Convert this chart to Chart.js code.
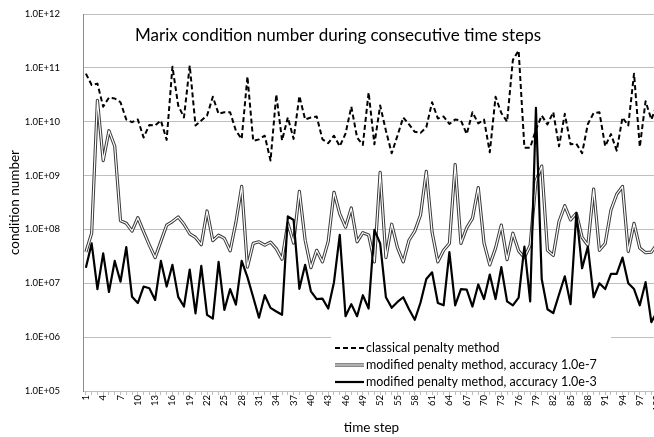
<!DOCTYPE html>
<html>
<head>
<meta charset="utf-8">
<script src="https://cdn.jsdelivr.net/npm/chart.js@4"></script>
<style>
	html, body { margin: 0; padding: 0; background: #fff; overflow: hidden; }
	#wrap { position: relative; width: 680px; height: 437px; }
</style>
</head>
<body>
<div id="wrap"><canvas id="condChart"></canvas></div>
<script>
// time steps 1..100
const categories = Array.from({ length: 100 }, (_, i) => String(i + 1))

const yTickValues = [1e5, 1e6, 1e7, 1e8, 1e9, 1e10, 1e11, 1e12]
const yTickLabels = ['1.0E+05', '1.0E+06', '1.0E+07', '1.0E+08', '1.0E+09', '1.0E+10', '1.0E+11', '1.0E+12']

const seriesNames = [
	'classical penalty method',
	'modified penalty method, accuracy 1.0e-7',
	'modified penalty method, accuracy 1.0e-3',
]

const classical = [
	7.8e10, 4.8e10, 5.1e10, 1.9e10, 2.8e10, 2.7e10, 2.3e10, 1.1e10, 9.8e9, 1.1e10,
	5.1e9, 8.7e9, 8.5e9, 1.05e10, 4.6e9, 1.05e11, 2.0e10, 1.2e10, 1.1e11, 8.5e9,
	1.05e10, 1.3e10, 2.9e10, 1.4e10, 1.5e10, 1.5e10, 6.8e9, 4.8e9, 6.9e10, 4.4e9,
	4.7e9, 5.5e9, 1.9e9, 3.2e10, 4.5e9, 1.2e10, 4.8e9, 3.0e10, 1.1e10, 1.2e10,
	1.25e10, 4.7e9, 4.0e9, 5.5e9, 3.5e9, 6.0e9, 1.9e10, 5.1e9, 3.7e9, 3.5e10,
	3.8e9, 2.0e10, 6.8e9, 2.6e9, 5.5e9, 1.2e10, 8.9e9, 6.5e9, 6.2e9, 7.9e9,
	2.3e10, 1.15e10, 1.25e10, 9.1e9, 1.1e10, 1.05e10, 5.9e9, 1.5e10, 9.3e9, 1.1e10,
	2.7e9, 2.9e10, 1.45e10, 1.0e10, 1.4e11, 2.1e11, 3.3e9, 3.3e9, 7.1e9, 1.3e10,
	8.9e9, 1.5e10, 3.5e9, 1.4e10, 3.8e9, 3.9e9, 2.6e9, 9.1e9, 1.45e10, 1.5e10,
	3.5e9, 5.9e9, 2.9e9, 1.2e10, 8.5e9, 7.8e10, 3.4e9, 2.4e10, 1.1e10, 2.1e10,
]

const modified7 = [
	3.8e7, 8.5e7, 2.5e10, 1.9e9, 6.8e9, 3.5e9, 1.45e8, 1.3e8, 9.3e7, 1.65e8,
	9.1e7, 5.1e7, 3.0e7, 6.0e7, 1.2e8, 1.4e8, 1.7e8, 1.25e8, 8.3e7, 7.1e7,
	5.2e7, 2.2e8, 6.2e7, 7.8e7, 6.8e7, 4.0e7, 1.35e8, 6.3e8, 2.0e7, 5.5e7,
	5.9e7, 5.1e7, 5.8e7, 4.4e7, 2.8e7, 1.3e8, 5.6e7, 5.1e8, 6.3e7, 1.95e7,
	4.1e7, 2.5e7, 6.0e7, 4.9e8, 1.95e8, 1.1e8, 2.5e8, 5.9e7, 8.7e7, 7.9e7,
	2.5e7, 1.15e9, 3.0e7, 1.25e8, 4.6e7, 2.5e7, 6.3e7, 9.3e7, 1.85e8, 1.2e9,
	8.9e7, 2.5e7, 4.1e7, 5.5e7, 1.6e9, 5.5e7, 1.07e8, 1.6e8, 6.0e8, 5.6e7,
	2.2e7, 4.5e7, 1.2e8, 2.75e7, 8.5e7, 4.0e7, 3.0e7, 5.1e7, 7.9e8, 1.5e9,
	4.1e7, 3.3e7, 1.4e8, 2.75e8, 1.5e8, 2.0e8, 7.1e7, 5.1e7, 5.6e8, 4.1e7,
	5.5e7, 2.3e8, 4.5e8, 6.3e8, 3.9e7, 1.3e8, 4.5e7, 3.7e7, 3.8e7, 5.4e7,
]

const modified3 = [
	1.95e7, 5.5e7, 7.8e6, 3.6e7, 6.9e6, 2.6e7, 1.07e7, 4.7e7, 5.6e6, 4.3e6,
	8.7e6, 8.1e6, 4.9e6, 2.6e7, 8.7e6, 2.2e7, 5.6e6, 3.7e6, 1.8e7, 2.75e6,
	2.1e7, 2.6e6, 2.2e6, 2.5e7, 3.2e6, 7.8e6, 4.0e6, 2.6e7, 1.3e7, 5.5e6,
	2.3e6, 6.0e6, 3.5e6, 3.0e6, 2.6e6, 1.75e8, 1.5e8, 7.9e6, 2.2e7, 7.1e6,
	5.1e6, 5.2e6, 3.4e6, 1.05e7, 7.9e7, 2.45e6, 4.1e6, 2.45e6, 6.0e6, 3.4e6,
	9.8e7, 5.5e7, 5.5e6, 3.5e6, 4.5e6, 5.5e6, 3.3e6, 2.1e6, 4.4e6, 1.2e7,
	1.6e7, 4.3e6, 3.9e6, 3.8e7, 3.9e6, 7.8e6, 7.6e6, 3.7e6, 9.5e6, 5.1e6,
	1.45e7, 5.1e6, 2.0e7, 4.6e6, 3.9e6, 5.4e6, 4.8e7, 4.6e6, 1.8e10, 1.2e7,
	3.3e6, 2.8e6, 6.2e6, 1.35e7, 4.1e6, 2.0e8, 1.9e7, 4.8e7, 5.5e6, 1.0e7,
	7.8e6, 1.5e7, 1.5e7, 3.0e7, 1.0e7, 7.8e6, 3.9e6, 1.05e7, 1.9e6, 3.0e6,
]

const FONT = 'Lato, "Open Sans", sans-serif'

// title written inside the plot area
const innerTitle = {
	id: 'innerTitle',
	afterDraw(chart) {
		const { ctx, chartArea } = chart
		ctx.save()
		ctx.font = '17px ' + FONT
		ctx.fillStyle = '#000'
		ctx.textAlign = 'center'
		ctx.textBaseline = 'middle'
		ctx.fillText('Marix condition number during consecutive time steps', 338, chartArea.top + 22)
		ctx.restore()
	},
}

// legend box in the lower right of the plot
const innerLegend = {
	id: 'innerLegend',
	afterDatasetsDraw(chart) {
		const { ctx } = chart
		const x0 = 331, y0 = 337
		ctx.save()
		ctx.fillStyle = '#fff'
		ctx.fillRect(x0, y0, 280, 51)
		ctx.font = '12.5px ' + FONT
		ctx.textBaseline = 'middle'
		ctx.fillStyle = '#000'
		seriesNames.forEach((name, i) => {
			const y = 348 + i * 17
			const sx = x0 + 4, ex = x0 + 33
			ctx.beginPath()
			ctx.moveTo(sx, y)
			ctx.lineTo(ex, y)
			if (i === 0) {
				ctx.setLineDash([5, 3])
				ctx.lineWidth = 2
				ctx.strokeStyle = '#000'
				ctx.stroke()
				ctx.setLineDash([])
			} else if (i === 1) {
				ctx.lineWidth = 3.2
				ctx.strokeStyle = '#3a3a3a'
				ctx.stroke()
				ctx.lineWidth = 1.2
				ctx.strokeStyle = '#fff'
				ctx.stroke()
			} else {
				ctx.lineWidth = 2.2
				ctx.strokeStyle = '#000'
				ctx.stroke()
			}
			ctx.fillText(name, ex + 2, y)
		})
		ctx.restore()
	},
}

const ctx = document.getElementById('condChart').getContext('2d')
new Chart(ctx, {
	type: 'line',
	data: {
		labels: categories,
		datasets: [
			{
				label: seriesNames[2],
				data: modified3,
				borderColor: '#000',
				borderWidth: 2.2,
				order: 0,
			},
			{
				label: seriesNames[1] + ' (core)',
				data: modified7,
				borderColor: '#fff',
				borderWidth: 1.2,
				order: 1,
			},
			{
				label: seriesNames[1],
				data: modified7,
				borderColor: '#3a3a3a',
				borderWidth: 3.2,
				order: 2,
			},
			{
				label: seriesNames[0],
				data: classical,
				borderColor: '#000',
				borderWidth: 2,
				borderDash: [5, 3],
				order: 3,
			},
		],
	},
	options: {
		responsive: true,
		maintainAspectRatio: false,
		animation: false,
		layout: { padding: { top: 14, right: 20, left: 0, bottom: 0 } },
		elements: {
			point: { radius: 0, hoverRadius: 0 },
			line: { tension: 0, fill: false, borderJoinStyle: 'round', borderCapStyle: 'butt' },
		},
		plugins: {
			legend: { display: false },
			tooltip: { enabled: false },
			title: { display: false },
		},
		scales: {
			x: {
				offset: true,
				grid: {
					drawOnChartArea: false,
					drawTicks: true,
					tickLength: 4,
					color: '#bfbfbf',
				},
				border: { color: '#bfbfbf' },
				ticks: {
					autoSkip: false,
					maxRotation: 90,
					minRotation: 90,
					padding: 0,
					color: '#000',
					font: { family: FONT, size: 9.5 },
					callback: (v, i) => (i % 3 === 0 ? categories[i] : ''),
				},
				title: {
					display: true,
					text: 'time step',
					color: '#000',
					font: { family: FONT, size: 13.5 },
					padding: { top: 0, bottom: 1 },
				},
				afterFit: scale => {
					scale.height = 46
				},
			},
			y: {
				type: 'logarithmic',
				min: 1e5,
				max: 1e12,
				grid: {
					color: '#bfbfbf',
					drawTicks: true,
					tickLength: 20,
					tickColor: 'rgba(0,0,0,0)',
				},
				border: { color: '#8c8c8c' },
				afterBuildTicks: scale => {
					scale.ticks = yTickValues.map(v => ({ value: v }))
				},
				ticks: {
					padding: 3,
					color: '#000',
					font: { family: FONT, size: 9.5 },
					callback: v => yTickLabels[yTickValues.indexOf(v)],
				},
				title: {
					display: true,
					text: 'condition number',
					color: '#000',
					font: { family: FONT, size: 13.5 },
					padding: { top: 7, bottom: 0 },
				},
				afterFit: scale => {
					scale.width = 83
				},
			},
		},
	},
	plugins: [innerTitle, innerLegend],
})
</script>
</body>
</html>
